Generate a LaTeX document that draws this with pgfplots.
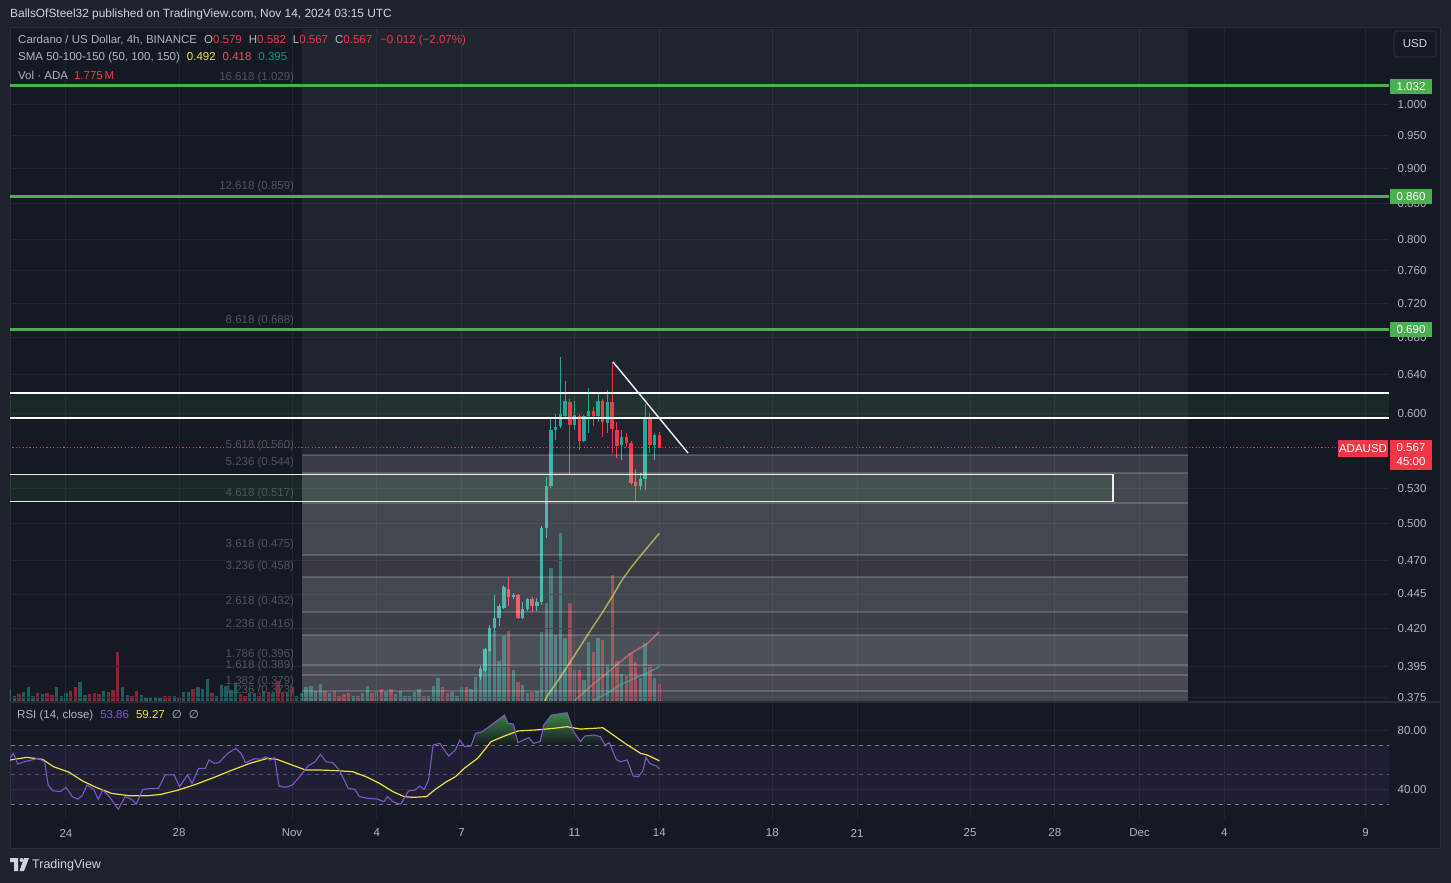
\documentclass[border=0pt]{standalone}
\usepackage{pgfplots}
\usepackage{pgfplotstable}
\pgfplotsset{compat=1.18}
\usepackage{fontspec}
\setmainfont{Liberation Sans}
\newfontfamily\djv{DejaVu Sans}

\definecolor{outerbg}{HTML}{1E222D}
\definecolor{panelbg}{HTML}{151924}
\definecolor{gridc}{HTML}{222632}
\definecolor{sepc}{HTML}{2A2E39}
\definecolor{txt}{HTML}{B2B5BE}
\definecolor{txtw}{HTML}{D1D4DC}
\definecolor{tvgreen}{HTML}{4CAF50}
\definecolor{tvred}{HTML}{F23645}
\definecolor{cgreen}{HTML}{26A69A}
\definecolor{cred}{HTML}{F23645}
\definecolor{smayel}{HTML}{F5E23B}
\definecolor{smared}{HTML}{F05350}
\definecolor{smateal}{HTML}{089981}
\definecolor{rsipur}{HTML}{7E57C2}
\definecolor{rsiyel}{HTML}{F2DF3A}
\definecolor{fibtxt}{HTML}{51545F}
\definecolor{dashc}{HTML}{787B86}
\definecolor{rsigreen}{HTML}{3E8A46}

\pgfplotstableread{
k v
1 23
3 58
4 23
8 27
11 36
13 63
15 59
16 21
18 31
20 63
21 168
22 66
23 133
24 98
25 69
26 10
28 8
29 16
31 31
33 65
34 40
35 70
36 73
37 51
38 33
39 24
40 12
42 14
43 5
44 9
47 23
48 15
49 5
51 12
52 9
53 5
54 5
55 10
56 7
58 9
60 9
62 15
63 8
65 5
70 8
72 17
73 10
74 15
75 14
76 8
77 5
79 8
82 8
84 10
86 8
87 8
90 18
91 11
92 15
93 16
94 5
96 22
97 12
98 14
100 9
101 9
103 5
106 4
107 3
108 4
109 3
110 6
113 6
114 14
118 10
122 6
123 19
126 8
127 5
128 14
131 7
133 5
134 14
135 9
137 5
138 12
}\volgreen

\pgfplotstableread{
k v
0 17
2 36
5 39
6 48
7 25
9 40
10 126
12 61
14 49
17 31
19 98
27 9
30 19
32 70
41 14
45 8
46 14
50 5
57 12
59 12
61 8
64 5
66 8
67 7
68 5
69 10
71 10
78 14
80 9
81 20
83 9
85 5
88 5
89 7
95 8
99 12
102 4
104 5
105 5
111 10
112 5
115 49
116 11
117 9
119 7
120 8
121 7
124 14
125 10
129 6
130 8
132 8
136 7
}\volred

\newcommand\fibband[3]{\addplot[fill=white, fill opacity=#3, draw=none] coordinates {(8.354,#1) (39.72,#1) (39.72,#2) (8.354,#2)} -- cycle;}
\newcommand\fibline[1]{\addplot[white, opacity=0.17, line width=2pt] coordinates {(8.354,#1) (39.72,#1)};}
\newcommand\fiblabel[2]{\node[anchor=base east, text=fibtxt, inner sep=0pt, yshift=7pt] at (axis cs:8.08,#2) {#1 (#2)};}

\begin{document}
\begin{tikzpicture}[font=\fontsize{11.5}{13.8}\selectfont]
\fill[outerbg] (0pt,0pt) rectangle (1451pt,-883pt);
\fill[panelbg] (10pt,-28pt) rectangle (1440pt,-848pt);
\draw[sepc, line width=1pt] (10pt,-28pt) rectangle (1440pt,-848pt);

% volume
\begin{axis}[at={(10pt,-29pt)}, anchor=north west, scale only axis,
  width=1379pt, height=672pt,
  xmin=-1.982, xmax=46.83, ymin=0, ymax=672, axis lines=none]
\addplot[ycomb, draw=cgreen, draw opacity=0.5, line width=3.4pt] table[x expr=21-\thisrow{k}/6, y=v] {\volgreen};
\addplot[ycomb, draw=cred, draw opacity=0.5, line width=3.4pt] table[x expr=21-\thisrow{k}/6, y=v] {\volred};
\end{axis}

% price
\begin{axis}[at={(10pt,-29pt)}, anchor=north west, scale only axis,
  width=1379pt, height=672pt,
  xmin=-1.982, xmax=46.83, ymode=log, ymin=0.3728, ymax=1.134,
  axis line style={draw=none}, major tick length=0pt, tick style={draw=none},
  xtick={0,4,8,11,14,18,21,25,28,32,35,38,41,46}, xticklabels={},
  ytick={0.375,0.395,0.42,0.445,0.47,0.5,0.53,0.6,0.64,0.68,0.72,0.76,0.8,0.85,0.9,0.95,1.0},
  yticklabels={0.375,0.395,0.420,0.445,0.470,0.500,0.530,0.600,0.640,0.680,0.720,0.760,0.800,0.850,0.900,0.950,1.000},
  yticklabel pos=right,
  ticklabel style={font=\fontsize{11.5}{13.8}\selectfont, text=txt},
  yticklabel style={anchor=center, xshift=23pt},
  grid=major, major grid style={draw=gridc, line width=1pt},
  clip mode=individual, unbounded coords=jump]
% fib upper shade
\addplot[fill=white, fill opacity=0.05, draw=none] coordinates {(8.354,0.560) (39.72,0.560) (39.72,1.2) (8.354,1.2)} -- cycle;
% candles: green wicks
\addplot[cgreen, line width=1pt] coordinates {
(20.833,0.556) (20.833,0.581) (20.833,nan)
(20.5,0.529) (20.5,0.610) (20.5,nan)
(20.333,0.529) (20.333,0.544) (20.333,nan)
(19.667,0.556) (19.667,0.584) (19.667,nan)
(19.167,0.581) (19.167,0.624) (19.167,nan)
(18.833,0.592) (18.833,0.621) (18.833,nan)
(18.5,0.581) (18.5,0.626) (18.5,nan)
(18.333,0.572) (18.333,0.599) (18.333,nan)
(18.0,0.584) (18.0,0.613) (18.0,nan)
(17.667,0.595) (17.667,0.633) (17.667,nan)
(17.5,0.586) (17.5,0.659) (17.5,nan)
(17.333,0.574) (17.333,0.600) (17.333,nan)
(17.167,0.530) (17.167,0.597) (17.167,nan)
(17.0,0.488) (17.0,0.540) (17.0,nan)
(16.833,0.437) (16.833,0.498) (16.833,nan)
(16.667,0.433) (16.667,0.442) (16.667,nan)
(16.333,0.433) (16.333,0.442) (16.333,nan)
(16.167,0.427) (16.167,0.439) (16.167,nan)
(15.833,0.441) (15.833,0.446) (15.833,nan)
(15.5,0.434) (15.5,0.452) (15.5,nan)
(15.333,0.422) (15.333,0.438) (15.333,nan)
(15.167,0.418) (15.167,0.444) (15.167,nan)
(15.0,0.404) (15.0,0.423) (15.0,nan)
(14.833,0.391) (14.833,0.407) (14.833,nan)
(14.667,0.386) (14.667,0.395)
};
% green bodies
\addplot[cgreen, line width=3.4pt] coordinates {
(20.833,0.570) (20.833,0.579) (20.833,nan)
(20.5,0.538) (20.5,0.596) (20.5,nan)
(20.333,0.532) (20.333,0.538) (20.333,nan)
(19.667,0.570) (19.667,0.577) (19.667,nan)
(19.167,0.591) (19.167,0.612) (19.167,nan)
(18.833,0.598) (18.833,0.613) (18.833,nan)
(18.5,0.598) (18.5,0.602) (18.5,nan)
(18.333,0.573) (18.333,0.598) (18.333,nan)
(18.0,0.589) (18.0,0.599) (18.0,nan)
(17.667,0.598) (17.667,0.613) (17.667,nan)
(17.5,0.588) (17.5,0.600) (17.5,nan)
(17.333,0.584) (17.333,0.587) (17.333,nan)
(17.167,0.532) (17.167,0.584) (17.167,nan)
(17.0,0.496) (17.0,0.532) (17.0,nan)
(16.833,0.439) (16.833,0.496) (16.833,nan)
(16.667,0.436) (16.667,0.439) (16.667,nan)
(16.333,0.434) (16.333,0.441) (16.333,nan)
(16.167,0.428) (16.167,0.434) (16.167,nan)
(15.833,0.443) (15.833,0.4445) (15.833,nan)
(15.5,0.435) (15.5,0.450) (15.5,nan)
(15.333,0.428) (15.333,0.436) (15.333,nan)
(15.167,0.421) (15.167,0.428) (15.167,nan)
(15.0,0.405) (15.0,0.421) (15.0,nan)
(14.833,0.392) (14.833,0.406) (14.833,nan)
(14.667,0.388) (14.667,0.393)
};
% red wicks
\addplot[cred, line width=1pt] coordinates {
(21.0,0.567) (21.0,0.582) (21.0,nan)
(20.667,0.562) (20.667,0.601) (20.667,nan)
(20.167,0.519) (20.167,0.547) (20.167,nan)
(20.0,0.533) (20.0,0.573) (20.0,nan)
(19.833,0.568) (19.833,0.581) (19.833,nan)
(19.5,0.557) (19.5,0.592) (19.5,nan)
(19.333,0.562) (19.333,0.653) (19.333,nan)
(19.0,0.577) (19.0,0.615) (19.0,nan)
(18.667,0.588) (18.667,0.607) (18.667,nan)
(18.167,0.565) (18.167,0.600) (18.167,nan)
(17.833,0.543) (17.833,0.615) (17.833,nan)
(16.5,0.432) (16.5,0.443) (16.5,nan)
(16.0,0.427) (16.0,0.445) (16.0,nan)
(15.667,0.436) (15.667,0.458)
};
% red bodies
\addplot[cred, line width=3.4pt] coordinates {
(21.0,0.579) (21.0,0.567) (21.0,nan)
(20.667,0.597) (20.667,0.570) (20.667,nan)
(20.167,0.536) (20.167,0.532) (20.167,nan)
(20.0,0.571) (20.0,0.535) (20.0,nan)
(19.833,0.577) (19.833,0.571) (19.833,nan)
(19.5,0.584) (19.5,0.569) (19.5,nan)
(19.333,0.612) (19.333,0.585) (19.333,nan)
(19.0,0.613) (19.0,0.592) (19.0,nan)
(18.667,0.602) (18.667,0.598) (18.667,nan)
(18.167,0.598) (18.167,0.573) (18.167,nan)
(17.833,0.612) (17.833,0.589) (17.833,nan)
(16.5,0.441) (16.5,0.436) (16.5,nan)
(16.0,0.444) (16.0,0.428) (16.0,nan)
(15.667,0.449) (15.667,0.443)
};
% SMAs
\addplot[smayel, opacity=0.6, line width=1.5pt] coordinates {(16.667,0.362) (17.0,0.375) (17.5,0.388) (18.0,0.402) (18.5,0.417) (19.0,0.432) (19.333,0.443) (19.667,0.455) (20.0,0.465) (20.333,0.474) (20.667,0.483) (21.0,0.492)};
\addplot[smared, opacity=0.6, line width=1.5pt] coordinates {(17.8,0.368) (18.0,0.373) (18.67,0.3834) (19.32,0.3931) (19.96,0.403) (20.56,0.4097) (21.0,0.418)};
\addplot[smateal, opacity=0.7, line width=1.5pt] coordinates {(18.4,0.369) (18.67,0.3733) (19.2,0.378) (19.61,0.3828) (20.1,0.387) (20.56,0.3903) (21.0,0.3946)};
% fib lower bands
\fibband{0.544}{0.560}{0.16}
\fibband{0.517}{0.544}{0.20}
\fibband{0.475}{0.517}{0.20}
\fibband{0.458}{0.475}{0.14}
\fibband{0.432}{0.458}{0.20}
\fibband{0.416}{0.432}{0.17}
\fibband{0.396}{0.416}{0.24}
\fibband{0.389}{0.396}{0.22}
\fibband{0.379}{0.389}{0.21}
\fibband{0.36}{0.379}{0.20}
\fibline{0.560}\fibline{0.544}\fibline{0.517}\fibline{0.475}\fibline{0.458}
\fibline{0.432}\fibline{0.416}\fibline{0.396}\fibline{0.389}\fibline{0.379}
% zones
\addplot[fill=tvgreen, fill opacity=0.1, draw=none] coordinates {(-2.5,0.5955) (46.83,0.5955) (46.83,0.6208) (-2.5,0.6208)} -- cycle;
\addplot[white, line width=1.4pt] coordinates {(-2.5,0.6208) (46.83,0.6208)};
\addplot[white, line width=1.4pt] coordinates {(-2.5,0.5955) (46.83,0.5955)};
\addplot[fill=tvgreen, fill opacity=0.1, draw=none] coordinates {(-2.5,0.5185) (37.06,0.5185) (37.06,0.5426) (-2.5,0.5426)} -- cycle;
\addplot[white!85!gray, line width=1.3pt] coordinates {(-2.5,0.5426) (37.06,0.5426) (37.06,0.5185) (-2.5,0.5185)};
% green levels
\addplot[tvgreen, line width=3pt] coordinates {(-2.5,1.032) (47,1.032)};
\addplot[tvgreen, line width=3pt] coordinates {(-2.5,0.860) (47,0.860)};
\addplot[tvgreen, line width=3pt] coordinates {(-2.5,0.690) (47,0.690)};
% trend line
\addplot[white!88!gray, line width=1.4pt] coordinates {(19.363,0.6535) (22.018,0.562)};
% price line
\addplot[tvred, line width=1pt, dash pattern=on 1.2pt off 2.2pt] coordinates {(-2.5,0.567) (45.0,0.567)};
% fib labels
\fiblabel{16.618}{1.029}
\fiblabel{12.618}{0.859}
\fiblabel{8.618}{0.688}
\fiblabel{5.618}{0.560}
\fiblabel{5.236}{0.544}
\fiblabel{4.618}{0.517}
\fiblabel{3.618}{0.475}
\fiblabel{3.236}{0.458}
\fiblabel{2.618}{0.432}
\fiblabel{2.236}{0.416}
\fiblabel{1.786}{0.396}
\fiblabel{1.618}{0.389}
\fiblabel{1.382}{0.379}
\fiblabel{1.236}{0.373}
\end{axis}

\draw[sepc, line width=2pt] (10pt,-702pt) -- (1440pt,-702pt);

% RSI
\begin{axis}[at={(10pt,-703pt)}, anchor=north west, scale only axis,
  width=1379pt, height=115pt,
  xmin=-1.982, xmax=46.83, ymin=20.51, ymax=98.47,
  axis line style={draw=none}, major tick length=0pt, tick style={draw=none},
  xtick={0,4,8,11,14,18,21,25,28,32,35,38,41,46},
  xticklabels={24,28,Nov,4,7,11,14,18,21,25,28,Dec,4,9},
  ytick={40,80}, yticklabels={40.00,80.00}, yticklabel pos=right,
  ticklabel style={font=\fontsize{11.5}{13.8}\selectfont, text=txt},
  yticklabel style={anchor=center, xshift=23pt},
  xticklabel style={anchor=center, yshift=-15pt},
  grid=major, major grid style={draw=gridc, line width=1pt},
  clip mode=individual]
\addplot[fill=rsipur, fill opacity=0.1, draw=none] coordinates {(-2.5,30) (47,30) (47,70) (-2.5,70)} -- cycle;
\addplot[dashc, line width=1pt, dash pattern=on 4pt off 4pt] coordinates {(-2.5,70) (47,70)};
\addplot[dashc, line width=1pt, dash pattern=on 4pt off 4pt, opacity=0.6] coordinates {(-2.5,50) (47,50)};
\addplot[dashc, line width=1pt, dash pattern=on 4pt off 4pt] coordinates {(-2.5,30) (47,30)};
\addplot[draw=none, top color=rsigreen, bottom color=panelbg] coordinates {(14.34,70) (14.494,77.9) (14.731,79.0) (15.047,83.5) (15.521,90.3) (15.647,84.7) (15.837,84.2) (15.995,71.6) (16.232,73.8) (16.390,75.0) (16.548,71.1) (16.785,72.3) (16.911,83.5) (17.180,90.3) (17.733,91.9) (17.970,79.0) (18.208,72.3) (18.366,76.1) (18.682,76.8) (18.919,75.6) (19.077,70.0)} -- cycle;
\addplot[rsiyel, line width=1.2pt] coordinates {(-1.988,59.8) (-1.388,61.6) (-0.835,60.3) (-0.440,55.3) (0.113,51.5) (0.588,45.6) (1.062,41.3) (1.615,37.2) (2.247,35.6) (2.879,35.6) (3.353,36.5) (3.985,39.5) (4.617,43.5) (5.249,48.1) (5.881,53.0) (6.514,57.6) (7.146,61.0) (7.462,60.3) (7.936,56.9) (8.489,53.0) (9.042,53.0) (9.595,52.6) (10.148,51.9) (10.622,48.5) (11.096,44.0) (11.571,38.4) (11.966,35.0) (12.281,34.5) (12.756,35.0) (13.072,39.9) (13.467,45.1) (13.783,48.5) (14.099,54.2) (14.573,61.0) (15.047,72.3) (15.521,76.1) (15.995,79.5) (16.627,80.2) (17.259,81.3) (17.733,82.4) (18.208,80.8) (18.682,81.3) (18.998,81.7) (19.235,78.6) (19.788,71.1) (20.341,64.3) (20.578,63.2) (21.000,59.3)};
\addplot[rsipur, line width=1.1pt] coordinates {(-1.988,60.95) (-1.862,64.3) (-1.704,57.1) (-1.467,58.7) (-1.230,59.8) (-0.993,61.0) (-0.756,58.7) (-0.629,42.9) (-0.471,39.0) (-0.203,38.4) (0.003,41.3) (0.224,35.0) (0.429,33.2) (0.588,36.1) (0.745,42.9) (0.983,39.9) (1.141,33.2) (1.299,39.5) (1.536,35.0) (1.852,26.4) (2.089,35.0) (2.326,33.2) (2.484,30.0) (2.721,39.9) (3.037,40.6) (3.274,40.6) (3.511,49.7) (3.827,49.7) (4.017,41.7) (4.301,49.7) (4.459,44.0) (4.696,54.2) (4.933,54.2) (5.060,59.8) (5.249,57.6) (5.407,58.0) (5.723,64.3) (6.008,67.7) (6.197,64.3) (6.356,58.0) (6.672,60.7) (6.909,60.3) (7.067,62.1) (7.225,59.8) (7.383,61.6) (7.541,42.2) (7.778,41.3) (8.015,42.9) (8.252,48.1) (8.568,55.8) (8.805,58.5) (9.011,63.7) (9.200,58.7) (9.437,58.0) (9.674,53.0) (9.990,40.6) (10.227,39.9) (10.385,35.0) (10.701,33.8) (11.017,33.4) (11.254,31.6) (11.381,35.0) (11.571,31.6) (11.729,30.4) (11.855,30.0) (11.966,33.8) (12.124,38.8) (12.361,39.5) (12.519,42.2) (12.677,39.9) (12.834,46.3) (12.993,70.0) (13.230,71.1) (13.546,62.5) (13.783,66.6) (13.941,73.4) (14.099,68.9) (14.336,69.3) (14.494,77.9) (14.731,79.0) (15.047,83.5) (15.521,90.3) (15.647,84.7) (15.837,84.2) (15.995,71.6) (16.232,73.8) (16.390,75.0) (16.548,71.1) (16.785,72.3) (16.911,83.5) (17.180,90.3) (17.733,91.9) (17.970,79.0) (18.208,72.3) (18.366,76.1) (18.682,76.8) (18.919,75.6) (19.077,70.0) (19.235,71.6) (19.472,60.3) (19.630,58.7) (19.867,59.8) (20.072,49.0) (20.262,48.5) (20.420,52.6) (20.530,61.6) (20.657,57.6) (20.815,56.2) (20.894,55.8) (21.000,53.9)};
\end{axis}

% header texts
\node[anchor=west, inner sep=0pt, text=txtw, font=\fontsize{11.9}{14}\selectfont] at (10pt,-14pt) {BallsOfSteel32 published on TradingView.com, Nov 14, 2024 03:15 UTC};
\node[anchor=west, inner sep=0pt, text=txt] at (18pt,-41pt) {Cardano / US Dollar, 4h, BINANCE\hspace{7pt}O\textcolor{tvred}{0.579}\hspace{7pt}H\textcolor{tvred}{0.582}\hspace{7pt}L\textcolor{tvred}{0.567}\hspace{7pt}C\textcolor{tvred}{0.567}\hspace{8pt}\textcolor{tvred}{−0.012 (−2.07\%)}};
\node[anchor=west, inner sep=0pt, text=txt] at (18pt,-58pt) {SMA 50-100-150 (50, 100, 150)\hspace{7pt}\textcolor{smayel}{0.492}\hspace{7pt}\textcolor{smared}{0.418}\hspace{7pt}\textcolor{smateal}{0.395}};
\node[anchor=west, inner sep=0pt, text=txt] at (18pt,-75pt) {Vol · ADA\hspace{6pt}\textcolor{tvred}{1.775\,M}};
\node[anchor=west, inner sep=0pt, text=txt] at (17pt,-716pt) {RSI (14, close)\hspace{7pt}\textcolor{rsipur}{53.86}\hspace{7pt}\textcolor{rsiyel}{59.27}\hspace{7pt}{\djv ∅}\hspace{7pt}{\djv ∅}};

% right labels
\node[draw=sepc, line width=1.2pt, rounded corners=3pt, minimum width=42pt, minimum height=26pt, inner sep=0pt, text=txtw] at (1415pt,-44pt) {USD};
\node[fill=tvgreen, text=white, minimum width=42pt, minimum height=15pt, inner sep=0pt] at (1411pt,-86.5pt) {1.032};
\node[fill=tvgreen, text=white, minimum width=42pt, minimum height=15pt, inner sep=0pt] at (1411pt,-196.5pt) {0.860};
\node[fill=tvgreen, text=white, minimum width=42pt, minimum height=15pt, inner sep=0pt] at (1411pt,-329.5pt) {0.690};
\node[fill=tvred, text=white, minimum width=50pt, minimum height=17pt, inner sep=0pt] at (1363pt,-448.5pt) {ADAUSD};
\fill[tvred] (1390pt,-440pt) rectangle (1432pt,-470pt);
\node[text=white, inner sep=0pt] at (1411pt,-448pt) {0.567};
\node[text=white, inner sep=0pt] at (1411pt,-462pt) {45:00};

% logo
\fill[txtw] (10pt,-858pt) -- (18pt,-858pt) -- (18pt,-871pt) -- (14pt,-871pt) -- (14pt,-862pt) -- (10pt,-862pt) -- cycle;
\fill[txtw] (21.5pt,-860pt) circle (2pt);
\fill[txtw] (24pt,-858pt) -- (29pt,-858pt) -- (24pt,-871pt) -- (19.5pt,-871pt) -- cycle;
\node[anchor=west, inner sep=0pt, text=txtw, font=\fontsize{12.5}{14}\selectfont] at (32pt,-865pt) {TradingView};
\end{tikzpicture}
\end{document}
